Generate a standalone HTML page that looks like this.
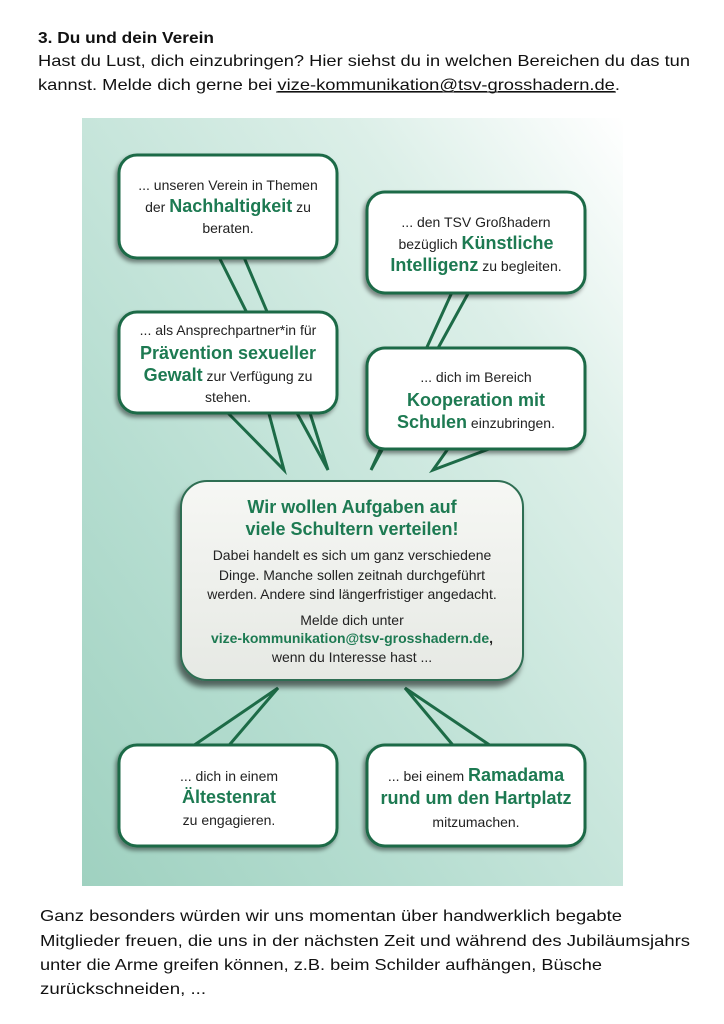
<!DOCTYPE html>
<html><head><meta charset="utf-8"><style>
html,body{margin:0;padding:0;background:#fff;}
svg{display:block;}
text{font-family:"Liberation Sans",Arial,sans-serif;}
</style></head><body>
<svg width="724" height="1024" viewBox="0 0 724 1024" xmlns="http://www.w3.org/2000/svg">
<defs>
<linearGradient id="bg" x1="1" y1="0" x2="0" y2="1">
<stop offset="0" stop-color="#ffffff"/>
<stop offset="0.25" stop-color="#dcefe8"/>
<stop offset="0.7" stop-color="#b5ddd0"/>
<stop offset="1" stop-color="#9fd1c0"/>
</linearGradient>
<linearGradient id="cb" x1="0" y1="0" x2="0" y2="1">
<stop offset="0" stop-color="#f6f7f4"/>
<stop offset="1" stop-color="#e6e9e4"/>
</linearGradient>
<filter id="ds" x="-10%" y="-10%" width="120%" height="130%">
<feDropShadow dx="-2" dy="3" stdDeviation="2" flood-color="#000" flood-opacity="0.45"/>
</filter>
<filter id="ds2" x="-10%" y="-10%" width="120%" height="130%">
<feDropShadow dx="-3" dy="6" stdDeviation="3" flood-color="#000" flood-opacity="0.55"/>
</filter>
</defs>
<rect width="724" height="1024" fill="#fff"/>
<text x="38" y="43" font-size="16" font-weight="bold" fill="#111" textLength="176" lengthAdjust="spacingAndGlyphs">3. Du und dein Verein</text>
<text x="38" y="66" font-size="16" fill="#111" textLength="652" lengthAdjust="spacingAndGlyphs">Hast du Lust, dich einzubringen? Hier siehst du in welchen Bereichen du das tun</text>
<text x="38" y="90" font-size="16" fill="#111" textLength="582" lengthAdjust="spacingAndGlyphs">kannst. Melde dich gerne bei <tspan text-decoration="underline">vize-kommunikation@tsv-grosshadern.de</tspan>.</text>
<line x1="276" y1="92" x2="616" y2="92" stroke="#111" stroke-width="1"/>

<rect x="82" y="118" width="541" height="768" fill="url(#bg)"/>

<g fill="none" stroke="#1d6b47" stroke-width="3" stroke-linejoin="miter">
<polyline points="218,255 297,413 328,470 310,413 243,255"/>
<polyline points="225,410 284,470 268,410"/>
<polyline points="453,290 371,470 470,290"/>
<polyline points="450,446 433,470 497,446"/>
<polyline points="187,750 278,688 225,750"/>
<polyline points="457,750 405,688 497,750"/>
</g>

<g fill="#fff" stroke="#1d6b47" stroke-width="3" filter="url(#ds)">
<rect x="119" y="155" width="218" height="103" rx="18"/>
<rect x="367" y="192" width="218" height="101" rx="18"/>
<rect x="119" y="312" width="218" height="101" rx="18"/>
<rect x="367" y="348" width="218" height="101" rx="18"/>
<rect x="119" y="745" width="218" height="101" rx="18"/>
<rect x="367" y="745" width="218" height="101" rx="18"/>
</g>
<rect x="181" y="481" width="342" height="199" rx="26" fill="url(#cb)" stroke="#2f6e52" stroke-width="2" filter="url(#ds2)"/>

<g text-anchor="middle" font-size="14" fill="#222">
<text x="228" y="190">... unseren Verein in Themen</text>
<text x="228" y="212">der <tspan font-size="18" font-weight="bold" fill="#1d7a52">Nachhaltigkeit</tspan> zu</text>
<text x="228" y="233">beraten.</text>

<text x="476" y="227">... den TSV Großhadern</text>
<text x="476" y="249">bezüglich <tspan font-size="18" font-weight="bold" fill="#1d7a52">Künstliche</tspan></text>
<text x="476" y="271"><tspan font-size="18" font-weight="bold" fill="#1d7a52">Intelligenz</tspan> zu begleiten.</text>

<text x="228" y="335">... als Ansprechpartner*in für</text>
<text x="228" y="359" font-size="18" font-weight="bold" fill="#1d7a52">Prävention sexueller</text>
<text x="228" y="381"><tspan font-size="18" font-weight="bold" fill="#1d7a52">Gewalt</tspan> zur Verfügung zu</text>
<text x="228" y="402">stehen.</text>

<text x="476" y="382">... dich im Bereich</text>
<text x="476" y="406" font-size="18" font-weight="bold" fill="#1d7a52">Kooperation mit</text>
<text x="476" y="428"><tspan font-size="18" font-weight="bold" fill="#1d7a52">Schulen</tspan> einzubringen.</text>

<text x="352" y="513" font-size="18" font-weight="bold" fill="#1d7a52">Wir wollen Aufgaben auf</text>
<text x="352" y="535" font-size="18" font-weight="bold" fill="#1d7a52">viele Schultern verteilen!</text>
<text x="352" y="560">Dabei handelt es sich um ganz verschiedene</text>
<text x="352" y="580">Dinge. Manche sollen zeitnah durchgeführt</text>
<text x="352" y="599">werden. Andere sind längerfristiger angedacht.</text>
<text x="352" y="625">Melde dich unter</text>
<text x="352" y="643" font-weight="bold" fill="#1d7a52">vize-kommunikation@tsv-grosshadern.de<tspan fill="#222">,</tspan></text>
<text x="352" y="662">wenn du Interesse hast ...</text>

<text x="229" y="781">... dich in einem</text>
<text x="229" y="803" font-size="18" font-weight="bold" fill="#1d7a52">Ältestenrat</text>
<text x="229" y="825">zu engagieren.</text>

<text x="476" y="781">... bei einem <tspan font-size="18" font-weight="bold" fill="#1d7a52">Ramadama</tspan></text>
<text x="476" y="804" font-size="18" font-weight="bold" fill="#1d7a52">rund um den Hartplatz</text>
<text x="476" y="827">mitzumachen.</text>
</g>

<g font-size="16" fill="#111">
<text x="40" y="921" textLength="582" lengthAdjust="spacingAndGlyphs">Ganz besonders würden wir uns momentan über handwerklich begabte</text>
<text x="40" y="946" textLength="650" lengthAdjust="spacingAndGlyphs">Mitglieder freuen, die uns in der nächsten Zeit und während des Jubiläumsjahrs</text>
<text x="40" y="970" textLength="562" lengthAdjust="spacingAndGlyphs">unter die Arme greifen können, z.B. beim Schilder aufhängen, Büsche</text>
<text x="40" y="994" textLength="166" lengthAdjust="spacingAndGlyphs">zurückschneiden, ...</text>
</g>
</svg>
</body></html>
